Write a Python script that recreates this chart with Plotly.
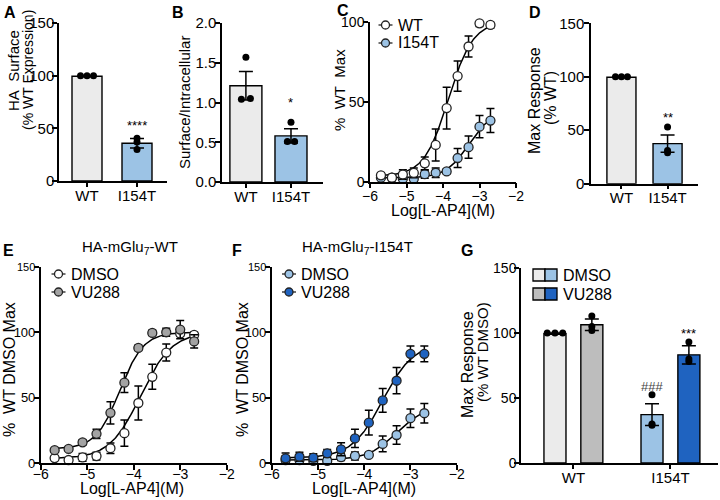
import numpy as np
import plotly.graph_objects as go

W, H = 720, 500
FONT = "Liberation Sans, Arial, sans-serif"

# ---------------- data ----------------
bar_groups = ["WT", "I154T"]

# A  HA surface (% WT expression)
surface_mean = [99.5, 35.8]
surface_sem = [0.5, 4.5]
surface_pts = [[100, 100, 100], [40.5, 37, 30]]

# B  surface / intracellular
ratio_mean = [1.21, 0.58]
ratio_sem = [0.18, 0.09]
ratio_pts = [[1.57, 1.04, 1.05], [0.75, 0.51, 0.51]]

# D  max response (% WT)
maxresp_mean = [99.5, 37.5]
maxresp_sem = [0.5, 8.0]
maxresp_pts = [[100, 100, 100], [53, 31, 29]]

# C, E, F  concentration-response
log_conc = [-5.7, -5.4, -5.1, -4.8, -4.5, -4.2, -3.9, -3.6, -3.3, -3.0, -2.7]
wt_dmso = [4, 2.5, 4.5, 5.5, 11.5, 23, 46, 66, 84.5, 99, 98]
wt_dmso_err = [1.5, 1, 3, 3, 4, 10, 13, 9.5, 6.5, 2, 2]
wt_vu288 = [10, 11, 16, 22.5, 38.5, 61.5, 88, 99.5, 100, 102, 93]
wt_vu288_err = [1.5, 1.5, 2, 3.5, 8.5, 7.5, 2, 2, 3, 7, 5]
i154t_dmso = [2.5, 2.5, 1.8, 1.8, 4.7, 5.6, 6.4, 14.8, 21.6, 34.4, 38.2]
i154t_dmso_err = [3, 2, 3, 2, 2.5, 3, 1.5, 6, 7, 7, 7.5]
i154t_vu288 = [3.8, 5, 4.3, 7.6, 10.7, 19, 31, 48, 63, 83.5, 83.5]
i154t_vu288_err = [4, 3.5, 3, 3, 5, 7, 9.5, 9, 10, 6, 6]

# fitted 4-parameter logistic: bottom, top, logEC50, hill
fit_wt_dmso = [3.5, 100, -3.85, 1.3]
fit_wt_vu288 = [11, 100, -4.3, 1.7]
fit_i154t_dmso = [2.5, 44, -3.3, 1.4]
fit_i154t_vu288 = [4, 92, -3.6, 1.3]

# G  max response (% WT DMSO)
g_dmso_mean = [99.5, 37.2]
g_dmso_sem = [0.5, 8.3]
g_dmso_pts = [[100, 100, 100], [52.5, 30, 29]]
g_vu_mean = [106.3, 83.2]
g_vu_sem = [4.4, 7.0]
g_vu_pts = [[113, 105, 102], [93, 80, 78]]

# ---------------- style ----------------
LIGHT = "#ebebeb"
LBLUE = "#9cc3e5"
GREY = "#bdbdbd"
BLUE = "#1f63c0"
MGREY = "#a3a3a3"


def px(x):
    return x / W


def py(y):
    return 1 - y / H


def axis(dom, rng, tickvals, ticktext=None, size=13, anchor=None, ticklen=5, standoff=0):
    d = dict(domain=dom, range=rng, tickvals=tickvals, showline=True, automargin=False,
             linecolor="black", linewidth=1.5, ticks="outside", ticklen=ticklen,
             tickwidth=1.5, tickcolor="black", showgrid=False, zeroline=False,
             tickfont=dict(family=FONT, size=size, color="black"), anchor=anchor,
             fixedrange=True, ticklabelstandoff=standoff)
    if ticktext is not None:
        d["ticktext"] = ticktext
    return d


def logistic(x, p):
    b, t, ec, h = p
    return b + (t - b) / (1 + 10 ** ((ec - x) * h))


fig = go.Figure()
ann = []


def bar_panel(ax, means, sems, pts, jitter, colors, width):
    xi = list(range(len(bar_groups)))
    fig.add_trace(go.Bar(x=xi, y=means, width=width, marker=dict(color=colors, line=dict(color="black", width=1.4)),
                         error_y=dict(type="data", array=sems, color="black", thickness=1.5, width=7),
                         xaxis="x" + ax, yaxis="y" + ax, showlegend=False))
    xs, ys = [], []
    for i, vals in enumerate(pts):
        for j, v in enumerate(vals):
            xs.append(i + jitter[i][j])
            ys.append(v)
    fig.add_trace(go.Scatter(x=xs, y=ys, mode="markers", marker=dict(color="black", size=7),
                             xaxis="x" + ax, yaxis="y" + ax, showlegend=False, cliponaxis=False))


def curve_panel(ax, series):
    xf = np.linspace(log_conc[0], log_conc[-1], 200)
    for vals, err, fit, fill in series:
        fig.add_trace(go.Scatter(x=xf, y=logistic(xf, fit), mode="lines", line=dict(color="black", width=1.5),
                                 xaxis="x" + ax, yaxis="y" + ax, showlegend=False, hoverinfo="skip"))
    for vals, err, fit, fill in series:
        fig.add_trace(go.Scatter(x=log_conc, y=vals, mode="markers",
                                 marker=dict(color=fill, size=9, line=dict(color="#222", width=1.3)),
                                 error_y=dict(type="data", array=err, color="black", thickness=1.5, width=4),
                                 xaxis="x" + ax, yaxis="y" + ax, showlegend=False, cliponaxis=False))


# A
bar_panel("", surface_mean, surface_sem, surface_pts, [[-0.13, 0, 0.13], [0, 0, 0]], [LIGHT, LBLUE], 0.6)
# B
bar_panel("2", ratio_mean, ratio_sem, ratio_pts, [[0, -0.1, 0.1], [0, -0.08, 0.08]], [LIGHT, LBLUE], 0.71)
# D
bar_panel("4", maxresp_mean, maxresp_sem, maxresp_pts, [[-0.13, 0, 0.13], [0, 0, 0]], [LIGHT, LBLUE], 0.63)
# C
curve_panel("3", [(i154t_dmso, i154t_dmso_err, fit_i154t_dmso, LBLUE),
                  (wt_dmso, wt_dmso_err, fit_wt_dmso, "white")])
# E
curve_panel("5", [(wt_dmso, wt_dmso_err, fit_wt_dmso, "white"),
                  (wt_vu288, wt_vu288_err, fit_wt_vu288, MGREY)])
# F
curve_panel("6", [(i154t_dmso, i154t_dmso_err, fit_i154t_dmso, LBLUE),
                  (i154t_vu288, i154t_vu288_err, fit_i154t_vu288, BLUE)])

# G grouped bars
g_off = 0.19
g_w = 0.227
for sign, means, sems, pts, cols in [(-1, g_dmso_mean, g_dmso_sem, g_dmso_pts, [LIGHT, LBLUE]),
                                     (1, g_vu_mean, g_vu_sem, g_vu_pts, [GREY, BLUE])]:
    xi = [i + sign * g_off for i in range(len(bar_groups))]
    fig.add_trace(go.Bar(x=xi, y=means, width=g_w, marker=dict(color=cols, line=dict(color="black", width=1.4)),
                         error_y=dict(type="data", array=sems, color="black", thickness=1.5, width=7),
                         xaxis="x7", yaxis="y7", showlegend=False))
    xs, ys = [], []
    for i, vals in enumerate(pts):
        jit = [-0.08, 0, 0.08] if i == 0 and sign < 0 else [0, 0, 0]
        for j, v in enumerate(vals):
            xs.append(xi[i] + jit[j])
            ys.append(v)
    fig.add_trace(go.Scatter(x=xs, y=ys, mode="markers", marker=dict(color="black", size=7),
                             xaxis="x7", yaxis="y7", showlegend=False, cliponaxis=False))

# ---------------- axes ----------------
cat_idx = list(range(len(bar_groups)))
log_ticks = [-6, -5, -4, -3, -2]
small150 = ["0", "50", "100", "<span style='font-size:11px'>150</span>"]
layout_axes = dict(
    xaxis=axis([px(59), px(167)], [-0.56, 1.6], cat_idx, bar_groups, 15, "y", 4, -4),
    yaxis=axis([py(181), py(23)], [0, 150], [0, 50, 100, 150], None, 15, "x", 5, -5),
    xaxis2=axis([px(222), px(323)], [-0.53, 1.71], cat_idx, bar_groups, 15, "y2", 4, -4),
    yaxis2=axis([py(182), py(23)], [0, 2], [0, 0.5, 1, 1.5, 2], ["0.0", "0.5", "1.0", "1.5", "2.0"], 15, "x2", 5, -4),
    xaxis3=axis([px(370), px(516)], [-6, -2], log_ticks, None, 14, "y3", 5, -4),
    yaxis3=axis([py(181.7), py(21.7)], [0, 100], [0, 50, 100], None, 14, "x3", 5, -4),
    xaxis4=axis([px(591), px(698)], [-0.66, 1.66], cat_idx, bar_groups, 15, "y4", 4, -4),
    yaxis4=axis([py(183.7), py(23.3)], [0, 150], [0, 50, 100, 150], None, 15, "x4", 5, -3),
    xaxis5=axis([px(40.7), px(226.7)], [-6, -2], log_ticks, None, 14, "y5", 5, -8),
    yaxis5=axis([py(463.3), py(266.7)], [0, 150], [0, 50, 100, 150], small150, 13, "x5", 5, -4),
    xaxis6=axis([px(271.7), px(456.7)], [-6, -2], log_ticks, None, 14, "y6", 5, -8),
    yaxis6=axis([py(463.3), py(266.7)], [0, 150], [0, 50, 100, 150], small150, 13, "x6", 5, -4),
    xaxis7=axis([px(521), px(718)], [-0.54, 1.49], cat_idx, bar_groups, 15, "y7", 4, -4),
    yaxis7=axis([py(463), py(268)], [0, 150], [0, 50, 100, 150], None, 14, "x7", 5, -5),
)


def text(x, y, s, size=14, angle=0, xanchor="center", yanchor="middle", bold=False, color="black"):
    ann.append(dict(x=px(x), y=py(y), xref="paper", yref="paper", text=("<b>%s</b>" % s) if bold else s,
                    showarrow=False, textangle=angle, xanchor=xanchor, yanchor=yanchor,
                    font=dict(family=FONT, size=size, color=color)))


# panel letters
for letter, lx, ly in [("A", 2, 2), ("B", 170, 2), ("C", 335, 0), ("D", 527, 2),
                       ("E", 1, 240), ("F", 230, 240), ("G", 459, 240)]:
    text(lx, ly, letter, 16, 0, "left", "top", bold=True)

# axis titles
text(13, 71, "HA\u00a0 Surface", 15, -90)
text(28, 70, "(% WT Expression)", 14, -90)
text(185, 102, "Surface/Intracellular", 15, -90)
text(340, 90, "%\u00a0 WT\u00a0 Max", 15, -90)
text(443, 211, "Log[L-AP4](M)", 16)
text(535, 101, "Max Response", 16, -90)
text(551, 98, "(% WT)", 16, -90)
text(9, 370, "%\u00a0 WT DMSO Max", 16, -90)
text(242, 370, "%\u00a0 WT DMSO Max", 16, -90)
text(132, 488, "Log[L-AP4](M)", 16)
text(364, 488, "Log[L-AP4](M)", 16)
text(467, 365, "Max Response", 16, -90)
text(482, 352, "(% WT DMSO)", 15, -90)
text(130, 247, "HA-mGlu<sub>7</sub>-WT", 15)
text(357, 247, "HA-mGlu<sub>7</sub>-I154T", 15)

# significance marks (data coordinates)
for xr, yr, xv, yv, s in [("x", "y", 1, 56, "****"), ("x2", "y2", 1, 1.04, "*"),
                          ("x4", "y4", 1, 65, "**"), ("x7", "y7", 1 - g_off, 61.5, "###"),
                          ("x7", "y7", 1 + g_off, 102, "***")]:
    ann.append(dict(x=xv, y=yv, xref=xr, yref=yr, text=s, showarrow=False, yshift=-3,
                    font=dict(family=FONT, size=13, color="#444" if s.startswith("#") else "black")))

shapes = []


def legend_dot(x, y, label, fill, size=15):
    shapes.append(dict(type="line", xref="paper", yref="paper", x0=px(x - 7), x1=px(x + 7), y0=py(y), y1=py(y),
                       line=dict(color="#222", width=1.3)))
    shapes.append(dict(type="circle", xref="paper", yref="paper", x0=px(x - 4), x1=px(x + 4), y0=py(y + 4),
                       y1=py(y - 4), fillcolor=fill, line=dict(color="#222", width=1.3)))
    text(x + 10, y, label, size, 0, "left")


legend_dot(385.5, 25, "WT", "white", 16)
legend_dot(385.5, 43, "I154T", LBLUE, 16)
legend_dot(58.5, 274, "DMSO", "white", 16)
legend_dot(58.5, 292, "VU288", MGREY, 16)
legend_dot(289, 274, "DMSO", LBLUE, 16)
legend_dot(289, 292, "VU288", BLUE, 16)

for yy, c1, c2, label in [(275, LIGHT, LBLUE, "DMSO"), (294, GREY, BLUE, "VU288")]:
    for k, c in enumerate([c1, c2]):
        shapes.append(dict(type="rect", xref="paper", yref="paper", x0=px(533 + 12 * k), x1=px(545 + 12 * k),
                           y0=py(yy + 6), y1=py(yy - 6), fillcolor=c, line=dict(color="black", width=1.3)))
    text(561, yy, label, 16, 0, "left")

fig.update_layout(
    width=W, height=H, margin=dict(l=0, r=0, t=0, b=0),
    paper_bgcolor="white", plot_bgcolor="white", barmode="overlay",
    font=dict(family=FONT, color="black"), showlegend=False,
    annotations=ann, shapes=shapes, **layout_axes,
)

# page has a default 8px body margin; remove it so the figure fills the window
fig.write_html("out.html", config={"displayModeBar": False},
               post_script="document.body.style.margin='0';")
